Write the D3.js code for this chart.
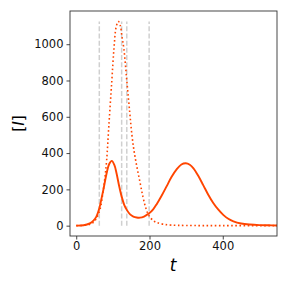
<!DOCTYPE html>
<html>
<head>
<meta charset="utf-8">
<script src="https://cdn.jsdelivr.net/npm/d3@7"></script>
<style>
  body { margin: 0; background: #fff; }
  svg { display: block; }
  .tick text { font-family: "DejaVu Sans", sans-serif; font-size: 11.5px; fill: #111; }
</style>
</head>
<body>
<svg width="288" height="288"></svg>
<script>
// curve with intervention (solid)
var tSolid = [0, 20, 37, 47, 55, 63, 69, 74, 83, 90, 97, 104, 110, 117, 124, 131, 138, 147, 156, 165, 174, 185, 199, 210, 220, 233, 247, 260, 274, 287, 299, 310, 320, 333, 347, 360, 374, 388, 402, 415, 429, 450, 474, 500, 525, 548];
var iSolid = [0, 2, 13, 28, 50, 96, 150, 197, 289, 340, 357, 335, 289, 220, 160, 115, 87, 62, 50, 45, 44, 50, 68, 90, 120, 165, 218, 268, 310, 337, 344, 336, 316, 275, 222, 172, 125, 88, 58, 38, 24, 12, 6, 3, 2, 1];

// curve without intervention (dotted)
var tDotted = [0, 30, 45, 55, 65, 72, 78, 83, 89, 97, 103, 109, 115, 120, 125, 130, 138, 146, 152, 158, 165, 174, 182, 190, 198, 210, 220, 240, 260, 300, 400, 548];
var iDotted = [0, 4, 15, 40, 90, 170, 260, 360, 550, 794, 975, 1095, 1125, 1105, 1040, 975, 800, 625, 500, 410, 330, 240, 160, 97, 57, 28, 17, 7, 3, 1, 0, 0];

// event times (dashed)
var eventTimes = [63, 124, 138, 199];

var xTicks = [0, 200, 400];
var yTicks = [0, 200, 400, 600, 800, 1000];

var svg = d3.select("svg");
var mLeft = 70, mRight = 277, mTop = 11, mBottom = 236;

var x = d3.scaleLinear().domain([-17, 548]).range([mLeft, mRight]);
var y = d3.scaleLinear().domain([-57, 1183]).range([mBottom, mTop]);

var g = svg.append("g");

// vertical dashed lines
var vmax = d3.max(iDotted);
g.selectAll("line.event")
    .data(eventTimes)
    .enter().append("line")
    .attr("class", "event")
    .attr("x1", function (d) { return x(d); })
    .attr("x2", function (d) { return x(d); })
    .attr("y1", y(0))
    .attr("y2", y(vmax))
    .attr("stroke", "#d0d0d0")
    .attr("stroke-width", 1.5)
    .attr("stroke-dasharray", "5,2.2");

var line = d3.line()
    .x(function (d) { return x(d[0]); })
    .y(function (d) { return y(d[1]); })
    .curve(d3.curveCatmullRom.alpha(0.5));

svg.append("clipPath").attr("id", "clip")
    .append("rect")
    .attr("x", mLeft).attr("y", mTop)
    .attr("width", mRight - mLeft).attr("height", mBottom - mTop);

g.append("path")
    .datum(d3.zip(tDotted, iDotted))
    .attr("clip-path", "url(#clip)")
    .attr("d", line)
    .attr("fill", "none")
    .attr("stroke", "#ff4500")
    .attr("stroke-width", 1.6)
    .attr("stroke-dasharray", "1.6,2.5");

g.append("path")
    .datum(d3.zip(tSolid, iSolid))
    .attr("clip-path", "url(#clip)")
    .attr("d", line)
    .attr("fill", "none")
    .attr("stroke", "#ff4500")
    .attr("stroke-width", 1.9);

// axes
var xAxis = svg.append("g")
    .attr("transform", "translate(0," + mBottom + ")")
    .call(d3.axisBottom(x).tickValues(xTicks).tickFormat(d3.format("d")).tickSize(3.5).tickPadding(2.5));
var yAxis = svg.append("g")
    .attr("transform", "translate(" + mLeft + ",0)")
    .call(d3.axisLeft(y).tickValues(yTicks).tickFormat(d3.format("d")).tickSize(3.5).tickPadding(3));
xAxis.select(".domain").remove();
yAxis.select(".domain").remove();
svg.selectAll(".tick line").attr("stroke", "#333").attr("stroke-width", 0.9);

// frame
svg.append("rect")
    .attr("x", mLeft).attr("y", mTop)
    .attr("width", mRight - mLeft).attr("height", mBottom - mTop)
    .attr("fill", "none")
    .attr("stroke", "#333")
    .attr("stroke-width", 0.9);

// axis labels
svg.append("text")
    .attr("x", 173)
    .attr("y", 271)
    .attr("text-anchor", "middle")
    .style("font-family", "DejaVu Sans, sans-serif")
    .style("font-style", "oblique")
    .style("font-size", "17px")
    .text("t");

svg.append("text")
    .attr("transform", "translate(24," + ((mTop + mBottom) / 2) + ") rotate(-90)")
    .attr("text-anchor", "middle")
    .style("font-family", "DejaVu Sans, sans-serif")
    .style("font-size", "15.5px")
    .html("[<tspan style='font-style:oblique'>I</tspan>]");
</script>
</body>
</html>
